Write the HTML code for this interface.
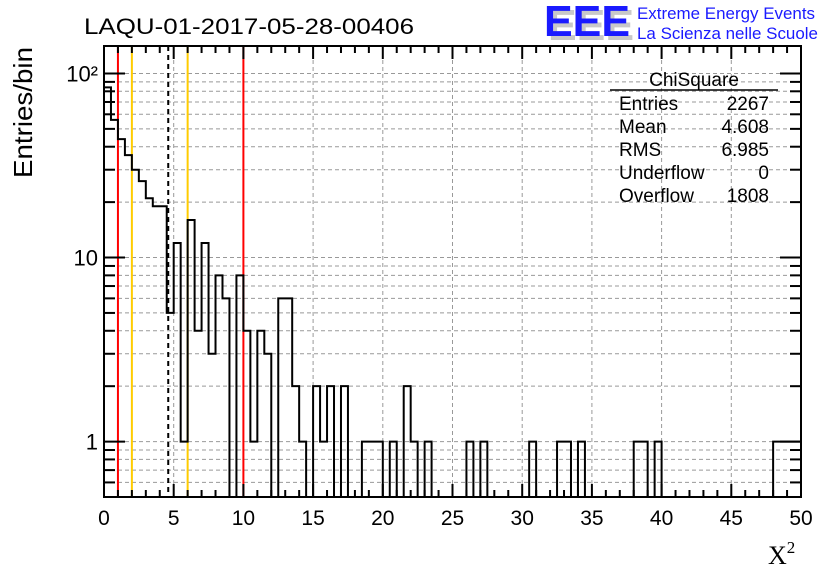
<!DOCTYPE html>
<html><head><meta charset="utf-8"><style>
html,body{margin:0;padding:0;background:#fff;}
svg{display:block;font-family:"Liberation Sans",sans-serif;}
</style></head><body>
<svg id="chart" width="836" height="572" viewBox="0 0 836 572" xmlns="http://www.w3.org/2000/svg">
<rect x="0" y="0" width="836" height="572" fill="#fff"/>
<g id="grid"></g>
<g id="vlines"></g>
<g id="hist"></g>
<g id="axes"></g>
<text x="84" y="34" font-size="22" textLength="330" lengthAdjust="spacingAndGlyphs">LAQU-01-2017-05-28-00406</text>
<g>
<text x="548" y="40" font-size="44" font-weight="bold" fill="#c8c8c8" textLength="86" lengthAdjust="spacingAndGlyphs">EEE</text>
<text x="544" y="36" font-size="44" font-weight="bold" fill="#1a1aff" textLength="86" lengthAdjust="spacingAndGlyphs">EEE</text>
<text x="637" y="19" font-size="16.5" fill="#1a1aff" textLength="178" lengthAdjust="spacingAndGlyphs">Extreme Energy Events</text>
<text x="637" y="39" font-size="16.5" fill="#1a1aff" textLength="181" lengthAdjust="spacingAndGlyphs">La Scienza nelle Scuole</text>
</g>
<g font-size="19">
<text x="694" y="86" text-anchor="middle">ChiSquare</text>
<line x1="610" y1="90" x2="778" y2="90" stroke="#000" stroke-width="1.5"/>
<text x="619" y="110">Entries</text><text x="769" y="110" text-anchor="end">2267</text>
<text x="619" y="133">Mean</text><text x="769" y="133" text-anchor="end">4.608</text>
<text x="619" y="156">RMS</text><text x="769" y="156" text-anchor="end">6.985</text>
<text x="619" y="179">Underflow</text><text x="769" y="179" text-anchor="end">0</text>
<text x="619" y="202">Overflow</text><text x="769" y="202" text-anchor="end">1808</text>
</g>
<text transform="translate(32,178) rotate(-90)" font-size="26" textLength="131" lengthAdjust="spacingAndGlyphs">Entries/bin</text>
<text x="768" y="564" font-size="26" font-family="Liberation Serif, serif">X<tspan font-size="17" dy="-11">2</tspan></text>
</svg>
<script>
const counts = [84,56,44,36,30,26,21,19,19,5,
12,1,16,4,12,3,8,6,0,8,
4,1,4,3,0,6,6,2,1,0,
2,1,2,0,2,0,0,1,1,1,
0,1,0,2,1,0,1,0,0,0,
0,0,1,0,1,0,0,0,0,0,
0,1,0,0,0,1,1,0,1,0,
0,0,0,0,0,0,1,1,0,1,
0,0,0,0,0,0,0,0,0,0,
0,0,0,0,0,0,1,1,1,1];
const binWidth = [0.5];
const xTicks = [0,5,10,15,20,25,30,35,40,45,50];
const yTickLabels = ["1","10","10²"];
const redLines = [1,10];
const yellowLines = [2,6];
const meanLine = [4.608];

const NS="http://www.w3.org/2000/svg";
const L=104,R=801,T=46,B=497;
const xmin=0,xmax=50,ymin=0.5,ymax=141;
const sx=v=>L+(v-xmin)/(xmax-xmin)*(R-L);
const sy=v=>B-(Math.log10(Math.max(v,ymin))-Math.log10(ymin))/(Math.log10(ymax)-Math.log10(ymin))*(B-T);
function mk(tag,attrs,parent){const e=document.createElementNS(NS,tag);for(const k in attrs)e.setAttribute(k,attrs[k]);parent.appendChild(e);return e;}
const grid=document.getElementById('grid'),axes=document.getElementById('axes'),vl=document.getElementById('vlines'),hist=document.getElementById('hist');

for(const t of xTicks){if(t===xmin||t===xmax)continue;
 const g=mk('line',{x1:sx(t),x2:sx(t),y1:T,y2:B,stroke:'#999','stroke-width':1,'stroke-dasharray':'4,3'},grid);
 
 }
const yvals=[];
for(let d=0.1;d<=100;d*=10)for(let m=1;m<=9;m++){const v=+(m*d).toPrecision(3);if(v>=ymin&&v<=ymax)yvals.push(v);}
for(const v of yvals){
 const g=mk('line',{x1:L,x2:R,y1:sy(v),y2:sy(v),stroke:'#999','stroke-width':1,'stroke-dasharray':'4,3'},grid);
 
 }

for(const v of redLines){const e=mk('line',{x1:sx(v),x2:sx(v),y1:T,y2:B,stroke:'#ff0000','stroke-width':2},vl);
 
 }
for(const v of yellowLines){const e=mk('line',{x1:sx(v),x2:sx(v),y1:T,y2:B,stroke:'#ffcc00','stroke-width':2},vl);
 
 }
for(const v of meanLine){const e=mk('line',{x1:sx(v),x2:sx(v),y1:T,y2:B,stroke:'#000','stroke-width':2,'stroke-dasharray':'5,4'},vl);
 
 }

let d='';const w=binWidth[0];
for(let i=0;i<counts.length;i++){
 const x0=sx(i*w),x1=sx((i+1)*w),y=sy(counts[i]);
 d+=(i===0?'M'+x0+','+y:'L'+x0+','+y)+'L'+x1+','+y;
}
const hp=mk('path',{d:d,fill:'none',stroke:'#000','stroke-width':2},hist);



const fr=mk('rect',{x:L,y:T,width:R-L,height:B-T,fill:'none',stroke:'#000','stroke-width':2},axes);


for(let v=0;v<=50;v++){const len=(v%5===0)?13:7;
 mk('line',{x1:sx(v),x2:sx(v),y1:B,y2:B-len,stroke:'#000','stroke-width':2},axes);
 mk('line',{x1:sx(v),x2:sx(v),y1:T,y2:T+len,stroke:'#000','stroke-width':2},axes);}
for(const t of xTicks){const e=mk('text',{x:sx(t),y:B+28,'font-size':21,'text-anchor':'middle'},axes);e.textContent=String(t);
 
 }
for(const v of yvals){const major=(v===1||v===10||v===100);const len=major?21:11;
 mk('line',{x1:L,x2:L+len,y1:sy(v),y2:sy(v),stroke:'#000','stroke-width':2},axes);
 mk('line',{x1:R,x2:R-len,y1:sy(v),y2:sy(v),stroke:'#000','stroke-width':2},axes);}
const yl=[1,10,100];
yl.forEach((v,i)=>{const e=mk('text',{x:L-6,y:sy(v)+8,'font-size':22,'text-anchor':'end'},axes);e.textContent=yTickLabels[i];
 
 });
</script>
</body></html>
